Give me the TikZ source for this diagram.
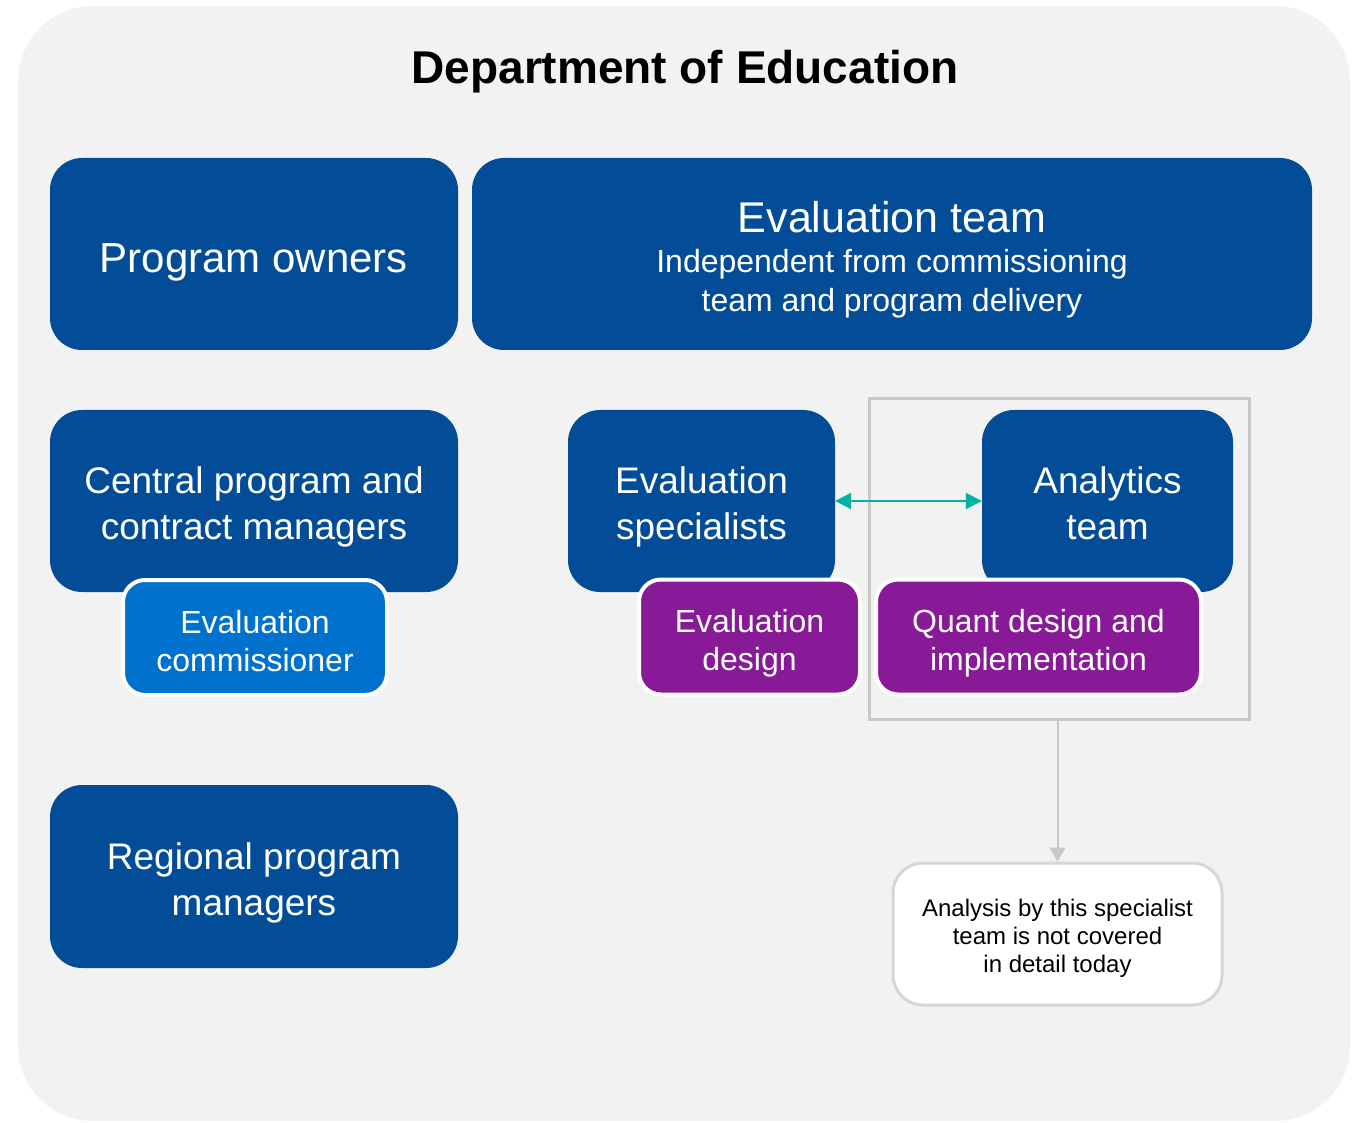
\documentclass[tikz,border=0pt]{standalone}
\usepackage{fontspec}
\setmainfont{Liberation Sans}
\usetikzlibrary{arrows.meta}

\definecolor{deptblue}{RGB}{2,76,152}
\definecolor{commblue}{RGB}{0,114,206}
\definecolor{designpurple}{RGB}{136,26,152}
\definecolor{panelgray}{RGB}{242,242,242}
\definecolor{framegray}{RGB}{200,200,196}
\definecolor{notegray}{RGB}{214,214,210}
\definecolor{linkteal}{RGB}{0,178,162}

% strut that pushes the first line of a box down
\newcommand{\padtop}[1][1.11em]{\rule{0pt}{#1}}

\begin{document}
\begin{tikzpicture}[x=1pt,y=-1pt,
    team/.style={fill=deptblue, text=white, rounded corners=32, align=center,
        inner sep=0, font=\fontsize{37}{46}\selectfont,
        execute at end node={\rule[-0.25em]{0pt}{0.25em}}},
    role/.style={draw=white, line width=4, text=white, rounded corners=22,
        align=center, inner sep=0, minimum height=115, font=\fontsize{32}{38}\selectfont,
        execute at end node={\rule[-0.25em]{0pt}{0.25em}}},
    notebox/.style={draw=notegray, line width=3, fill=white, rounded corners=30,
        align=center, inner sep=0, font=\fontsize{24}{28}\selectfont}]

\useasboundingbox (0,0) rectangle (1361,1123);
\fill[panelgray, rounded corners=75] (18,6) rectangle (1350,1121);

\node[font=\fontsize{46}{50}\selectfont\bfseries] (title) at (685,72) {Department of Education};

        % top row
\node[team, font=\fontsize{42}{46}\selectfont, minimum width=408, minimum height=192]
    (owners) at (254,254) {\padtop[1.12em]Program owners};
\node[team, font=\fontsize{43}{40}\selectfont, minimum width=840, minimum height=192]
    (evalteam) at (892,254)
    {\padtop[46pt]Evaluation team\\
     {\fontsize{32}{39}\selectfont Independent from commissioning}\\[-1pt]
     {\fontsize{32}{39}\selectfont team and program delivery}};

        % middle row
\node[team, minimum width=408, minimum height=182] (central) at (254,501)
    {\padtop Central program and\\contract managers};
\node[team, minimum width=267, minimum height=182] (evalspec) at (701.5,501)
    {\padtop Evaluation\\specialists};
\node[draw=framegray, line width=3, minimum width=380, minimum height=320] (frame) at (1059,559) {};
\node[team, minimum width=251, minimum height=182] (analytics) at (1107.5,501)
    {\padtop Analytics\\team};

\node[role, fill=commblue, minimum width=264] (commissioner) at (255,637.5)
    {\padtop[1.17em]Evaluation\\commissioner};
\node[role, fill=designpurple, minimum width=221] (evaldesign) at (749.5,637)
    {\padtop[1.17em]Evaluation\\design};
\node[role, fill=designpurple, minimum width=325] (quant) at (1038.5,637)
    {\padtop[1.17em]Quant design and\\implementation};

\draw[linkteal, line width=2, {Triangle[length=16,width=16]}-{Triangle[length=16,width=16]}]
    (evalspec.east) -- (analytics.west);

        % bottom row
\node[team, minimum width=408, minimum height=183] (regional) at (254,876.5)
    {\padtop Regional program\\managers};
\node[notebox, minimum width=329, minimum height=142] (note) at (1057.5,934)
    {\padtop[1.06em]Analysis by this specialist\\team is not covered\\in detail today};

\draw[framegray, line width=2, -{Triangle[length=14,width=16]}]
    (frame.south -| note.north) -- (note.north);
\end{tikzpicture}
\end{document}
